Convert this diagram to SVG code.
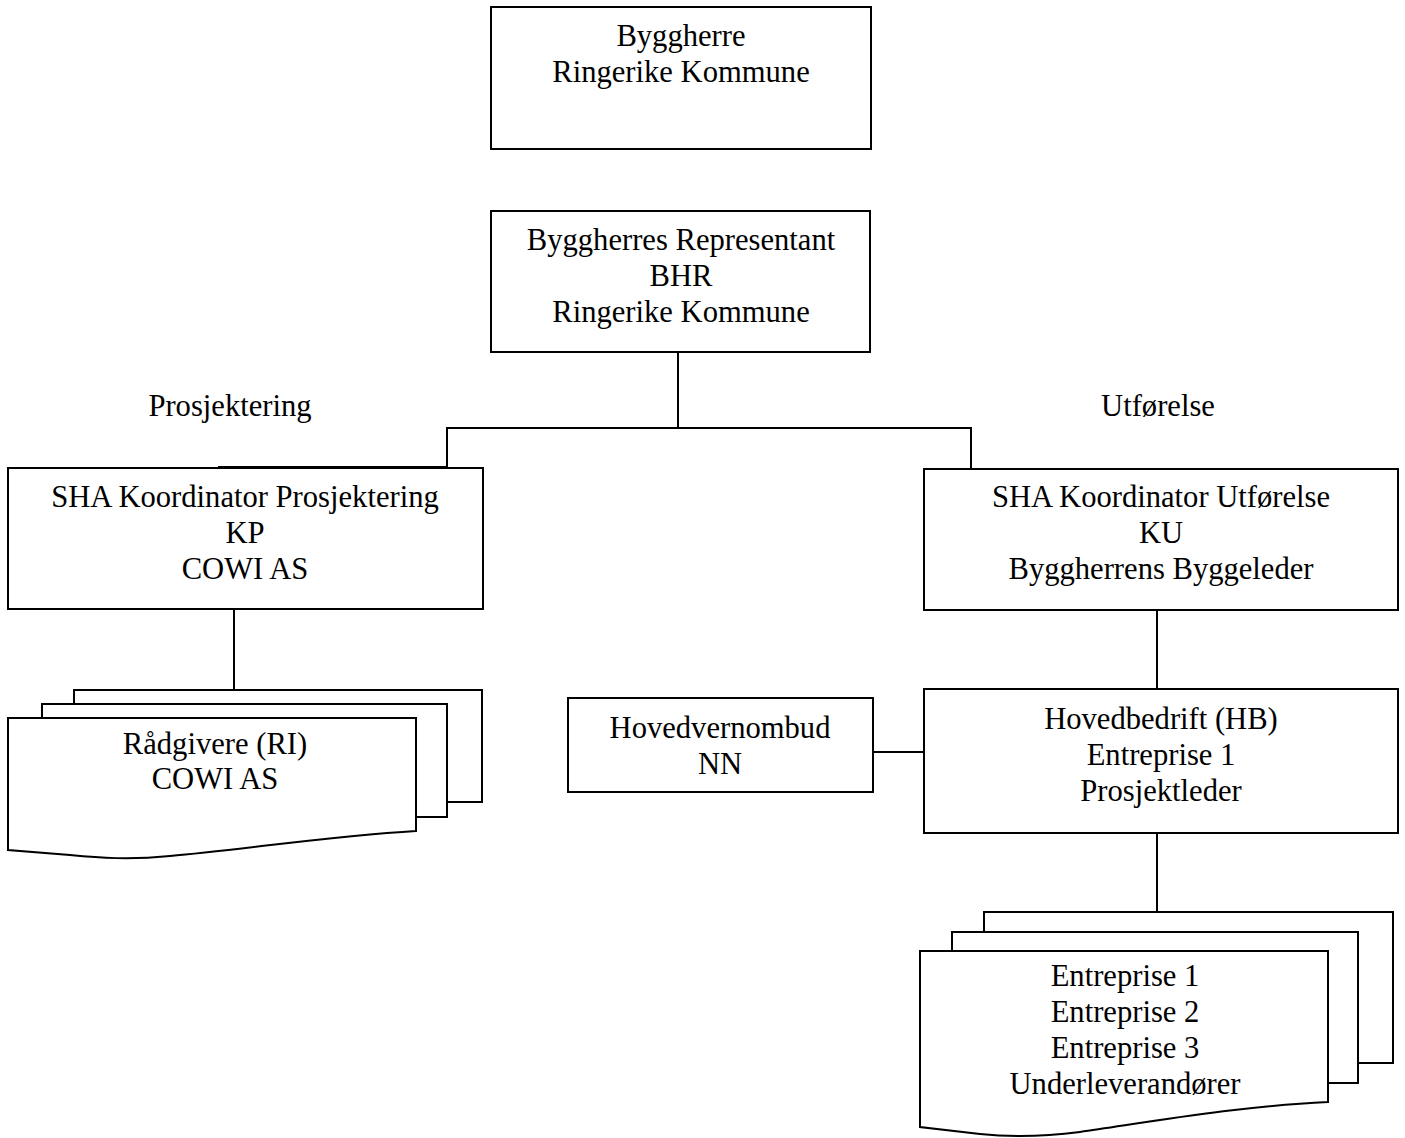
<svg xmlns="http://www.w3.org/2000/svg" width="1405" height="1138" viewBox="0 0 1405 1138">
<style>
.box{fill:#fff;stroke:#000;stroke-width:2}
.ln{fill:none;stroke:#000;stroke-width:2}
text{font-family:"Liberation Serif","Times New Roman",serif;font-size:30.6px;fill:#000;text-anchor:middle}
</style>
<rect width="1405" height="1138" fill="#fff"/>
<g id="connectors">
<path class="ln" d="M678,352 V428 M447,467 V428 H971 V469 M218,467 H447"/>
<path class="ln" d="M234,609 V690"/>
<path class="ln" d="M1157,610 V689"/>
<path class="ln" d="M873,752 H924"/>
<path class="ln" d="M1157,833 V912"/>
</g>
<g id="byggherre">
<rect class="box" x="491" y="7" width="380" height="142"/>
<text x="681" y="46">Byggherre</text>
<text x="681" y="82">Ringerike Kommune</text>
</g>
<g id="bhr">
<rect class="box" x="491" y="211" width="379" height="141"/>
<text x="681" y="250">Byggherres Representant</text>
<text x="681" y="286">BHR</text>
<text x="681" y="322">Ringerike Kommune</text>
</g>
<g id="label-prosjektering"><text x="230" y="416">Prosjektering</text></g>
<g id="label-utforelse"><text x="1158" y="416">Utførelse</text></g>
<g id="kp">
<rect class="box" x="8" y="468" width="475" height="141"/>
<text x="245" y="507">SHA Koordinator Prosjektering</text>
<text x="245" y="543">KP</text>
<text x="245" y="579">COWI AS</text>
</g>
<g id="ku">
<rect class="box" x="924" y="469" width="474" height="141"/>
<text x="1161" y="507">SHA Koordinator Utførelse</text>
<text x="1161" y="543">KU</text>
<text x="1161" y="579">Byggherrens Byggeleder</text>
</g>
<g id="radgivere">
<path class="box" d="M74,690 H482 V802 H447 V704 H74 Z"/>
<path class="box" d="M42,704 H447 V817 H416 V718 H42 Z"/>
<path class="box" d="M8,718 H416 V831 C330,836 240,850 170,856 C130,860 100,858 70,855 L8,850 Z"/>
<text x="215" y="754">Rådgivere (RI)</text>
<text x="215" y="789">COWI AS</text>
</g>
<g id="hovedvernombud">
<rect class="box" x="568" y="698" width="305" height="94"/>
<text x="720" y="738">Hovedvernombud</text>
<text x="720" y="774">NN</text>
</g>
<g id="hovedbedrift">
<rect class="box" x="924" y="689" width="474" height="144"/>
<text x="1161" y="729">Hovedbedrift (HB)</text>
<text x="1161" y="765">Entreprise 1</text>
<text x="1161" y="801">Prosjektleder</text>
</g>
<g id="entrepriser">
<path class="box" d="M984,912 H1393 V1063 H1358 V932 H984 Z"/>
<path class="box" d="M952,932 H1358 V1083 H1328 V951 H952 Z"/>
<path class="box" d="M920,951 H1328 V1102 C1240,1106 1150,1122 1080,1132 C1040,1137 1010,1137 980,1134 L920,1127 Z"/>
<text x="1125" y="986">Entreprise 1</text>
<text x="1125" y="1022">Entreprise 2</text>
<text x="1125" y="1058">Entreprise 3</text>
<text x="1125" y="1094">Underleverandører</text>
</g>
</svg>
